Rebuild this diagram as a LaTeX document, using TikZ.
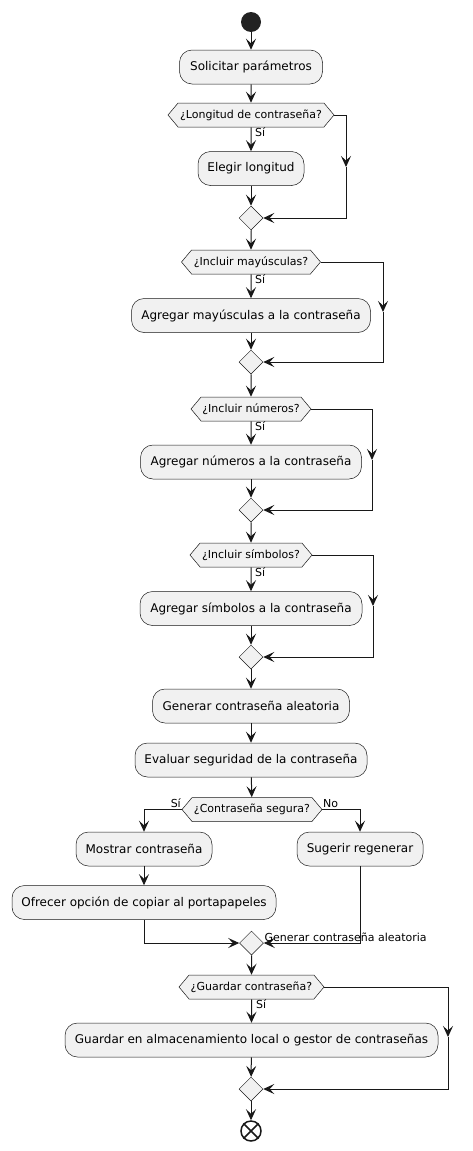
\documentclass[tikz,border=0pt]{standalone}
\usepackage{fontspec}
\setmainfont{DejaVu Sans}
\usetikzlibrary{arrows.meta,shapes.geometric,shapes.symbols}
\definecolor{boxfill}{HTML}{F1F1F1}
\definecolor{linecol}{HTML}{181818}
\definecolor{startcol}{HTML}{222222}
\begin{document}
\begin{tikzpicture}[x=1pt,y=-1pt,
  act/.style={draw=linecol, fill=boxfill, rounded corners=12.5pt, minimum height=34pt, inner sep=0pt, font=\fontsize{12}{14}\selectfont, line width=0.5pt},
  dec/.style={signal, signal to=west and east, signal pointer angle=100, draw=linecol, fill=boxfill, minimum height=24pt, inner xsep=0pt, inner ysep=0pt, font=\fontsize{11}{13}\selectfont, line width=0.5pt},
  mrg/.style={diamond, draw=linecol, fill=boxfill, minimum width=24pt, minimum height=24pt, inner sep=0pt, line width=0.5pt},
  conn/.style={draw=linecol, line width=1pt},
  flow/.style={conn, -{Stealth[length=11pt,width=10pt,inset=4.5pt]}},
  lbl/.style={font=\fontsize{11}{13}\selectfont, inner sep=0pt, text=black}
]
\useasboundingbox (0,0) rectangle (473,1151);

% start
\node[circle, fill=startcol, minimum size=20pt, inner sep=0pt] (start) at (251,22) {};
\node[act, minimum width=143pt] (solicitar) at (251,67) {Solicitar parámetros};

% decision 1
\node[dec, minimum width=166pt] (d1) at (251,115) {¿Longitud de contraseña?};
\node[act, minimum width=106pt] (elegir) at (251,168.5) {Elegir longitud};
\node[mrg] (m1) at (251,218) {};
\coordinate (r1) at (346,167);

% decision 2
\node[dec, minimum width=139pt] (d2) at (251,262) {¿Incluir mayúsculas?};
\node[act, minimum width=239pt] (may) at (251,315.5) {Agregar mayúsculas a la contraseña};
\node[mrg] (m2) at (251,362) {};
\coordinate (r2) at (383,312);

% decision 3
\node[dec, minimum width=120pt] (d3) at (251,409) {¿Incluir números?};
\node[act, minimum width=221pt] (num) at (251,462) {Agregar números a la contraseña};
\node[mrg] (m3) at (251,510) {};
\coordinate (r3) at (372,460);

% decision 4
\node[dec, minimum width=122pt] (d4) at (251,555) {¿Incluir símbolos?};
\node[act, minimum width=222pt] (sim) at (251,608.5) {Agregar símbolos a la contraseña};
\node[mrg] (m4) at (251,657) {};
\coordinate (r4) at (373,606);

\node[act, minimum width=197pt] (gen) at (251,706) {Generar contraseña aleatoria};
\node[act, minimum width=232pt] (eval) at (251,760) {Evaluar seguridad de la contraseña};

% decision 5
\node[dec, minimum width=140pt] (d5) at (252,809.5) {¿Contraseña segura?};
\node[act, minimum width=136pt] (mostrar) at (144,849) {Mostrar contraseña};
\node[act, minimum width=264pt] (ofrecer) at (144,902.5) {Ofrecer opción de copiar al portapapeles};
\node[act, minimum width=126pt] (sugerir) at (360,849) {Sugerir regenerar};
\node[mrg] (m5) at (251.5,943) {};

% decision 6
\node[dec, minimum width=145pt] (d6) at (251.5,987) {¿Guardar contraseña?};
\node[act, minimum width=373pt] (guardar) at (251.5,1040) {Guardar en almacenamiento local o gestor de contraseñas};
\node[mrg] (m6) at (251,1089) {};
\coordinate (r6) at (448,1037);

% end
\node[circle, draw=linecol, line width=1.5pt, minimum size=20pt, inner sep=0pt] (endn) at (251,1131) {};
\draw[conn, line width=1.5pt] (endn.north west) -- (endn.south east);
\draw[conn, line width=1.5pt] (endn.north east) -- (endn.south west);

% connectors
\draw[flow] (start) -- (solicitar);
\draw[flow] (solicitar) -- (d1);
\draw[flow] (d1) -- (elegir);
\draw[flow] (elegir) -- (m1);
\draw[flow] (d1.east) -| (r1);
\draw[flow] (r1) |- (m1.east);
\node[lbl, anchor=north west] (s1) at (255,127) {Sí};

\draw[flow] (m1) -- (d2);
\draw[flow] (d2) -- (may);
\draw[flow] (may) -- (m2);
\draw[flow] (d2.east) -| (r2);
\draw[flow] (r2) |- (m2.east);
\node[lbl, anchor=north west] (s2) at (255,274) {Sí};

\draw[flow] (m2) -- (d3);
\draw[flow] (d3) -- (num);
\draw[flow] (num) -- (m3);
\draw[flow] (d3.east) -| (r3);
\draw[flow] (r3) |- (m3.east);
\node[lbl, anchor=north west] (s3) at (255,421) {Sí};

\draw[flow] (m3) -- (d4);
\draw[flow] (d4) -- (sim);
\draw[flow] (sim) -- (m4);
\draw[flow] (d4.east) -| (r4);
\draw[flow] (r4) |- (m4.east);
\node[lbl, anchor=north west] (s4) at (255,567) {Sí};

\draw[flow] (m4) -- (gen);
\draw[flow] (gen) -- (eval);
\draw[flow] (eval) -- (d5);
\draw[flow] (d5.west) -| (mostrar.north);
\draw[flow] (d5.east) -| (sugerir.north);
\node[lbl, anchor=south east] (s5) at (181,808) {Sí};
\node[lbl, anchor=south west] (n5) at (323,808) {No};
\draw[flow] (mostrar) -- (ofrecer);
\draw[flow] (ofrecer.south) |- (m5.west);
\draw[flow] (sugerir.south) |- (m5.east);
\node[lbl, anchor=base west] (g5) at (264.5,941) {Generar contraseña aleatoria};

\draw[flow] (m5) -- (d6);
\draw[flow] (d6) -- (guardar);
\draw[flow] (guardar) -- (m6);
\draw[flow] (d6.east) -| (r6);
\draw[flow] (r6) |- (m6.east);
\node[lbl, anchor=north west] (s6) at (256,999) {Sí};

\draw[flow] (m6) -- (endn);
\end{tikzpicture}
\end{document}
